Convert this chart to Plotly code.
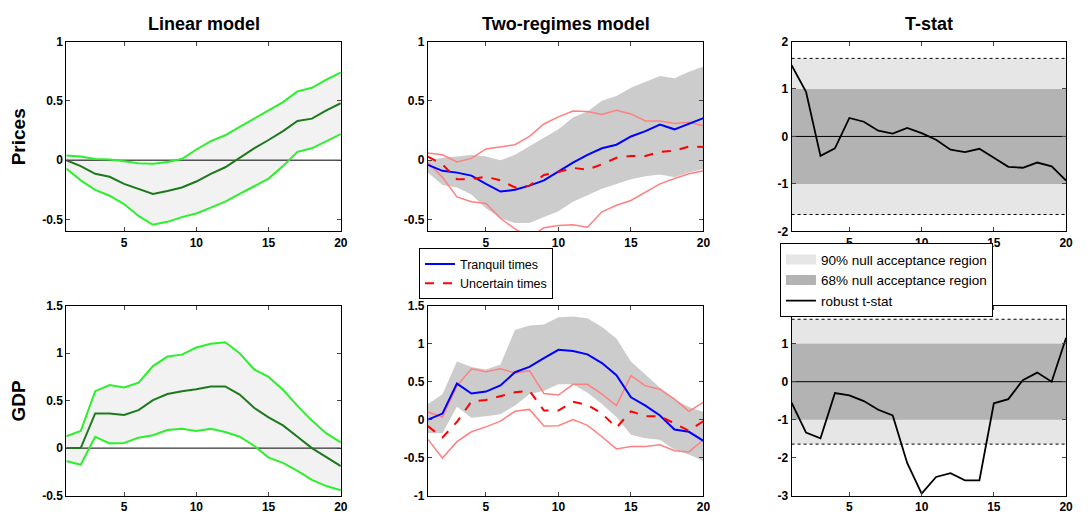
import plotly.graph_objects as go

x = list(range(1, 21))

# Linear model - Prices
lin_p_mid = [0, -0.05, -0.115, -0.14, -0.2, -0.24, -0.285, -0.26, -0.23, -0.18, -0.115, -0.06, 0.02, 0.1, 0.17, 0.245, 0.33, 0.35, 0.42, 0.48]
lin_p_up = [0.04, 0.03, 0.01, 0.005, -0.01, -0.025, -0.03, -0.015, 0.01, 0.09, 0.16, 0.21, 0.28, 0.35, 0.42, 0.49, 0.58, 0.61, 0.68, 0.74]
lin_p_lo = [-0.07, -0.17, -0.25, -0.3, -0.37, -0.47, -0.545, -0.52, -0.48, -0.45, -0.4, -0.35, -0.285, -0.22, -0.155, -0.05, 0.07, 0.1, 0.16, 0.22]

# Linear model - GDP
lin_g_mid = [0, 0, 0.365, 0.365, 0.35, 0.4, 0.505, 0.57, 0.6, 0.62, 0.65, 0.65, 0.565, 0.425, 0.325, 0.24, 0.12, 0, -0.095, -0.19]
lin_g_up = [0.125, 0.18, 0.6, 0.665, 0.64, 0.69, 0.865, 0.965, 0.985, 1.06, 1.1, 1.115, 1.0, 0.83, 0.75, 0.615, 0.445, 0.29, 0.155, 0.06]
lin_g_lo = [-0.135, -0.175, 0.12, 0.05, 0.055, 0.11, 0.135, 0.19, 0.205, 0.18, 0.205, 0.17, 0.12, 0.025, -0.1, -0.155, -0.24, -0.335, -0.4, -0.445]

# Two-regimes model - Prices
tr_p_tranq = [-0.04, -0.09, -0.105, -0.13, -0.2, -0.265, -0.25, -0.215, -0.17, -0.095, -0.02, 0.045, 0.1, 0.13, 0.2, 0.245, 0.3, 0.26, 0.305, 0.355]
tr_p_unc = [0.03, -0.035, -0.16, -0.16, -0.14, -0.17, -0.23, -0.215, -0.125, -0.1, -0.065, -0.08, -0.035, 0.02, 0.035, 0.035, 0.07, 0.08, 0.115, 0.11]
tr_p_unc_up = [0.06, 0.045, -0.015, 0.015, 0.095, 0.115, 0.13, 0.2, 0.305, 0.365, 0.415, 0.41, 0.385, 0.42, 0.39, 0.33, 0.33, 0.31, 0.32, 0.29]
tr_p_unc_lo = [-0.02, -0.145, -0.31, -0.35, -0.365, -0.49, -0.58, -0.65, -0.57, -0.55, -0.545, -0.565, -0.435, -0.38, -0.34, -0.27, -0.2, -0.155, -0.115, -0.09]
tr_p_band_up = [0.0, 0.02, 0.03, 0.045, 0.03, 0.0, 0.045, 0.115, 0.185, 0.26, 0.36, 0.41, 0.5, 0.54, 0.61, 0.66, 0.71, 0.69, 0.745, 0.79]
tr_p_band_lo = [-0.105, -0.21, -0.23, -0.29, -0.405, -0.49, -0.53, -0.53, -0.48, -0.43, -0.35, -0.295, -0.24, -0.2, -0.16, -0.135, -0.12, -0.145, -0.105, -0.075]

# Two-regimes model - GDP
tr_g_tranq = [0, 0.08, 0.475, 0.345, 0.37, 0.45, 0.625, 0.695, 0.81, 0.92, 0.905, 0.86, 0.745, 0.585, 0.295, 0.185, 0.055, -0.13, -0.16, -0.28]
tr_g_unc = [-0.085, -0.235, -0.03, 0.24, 0.26, 0.315, 0.36, 0.38, 0.12, 0.12, 0.235, 0.195, 0.08, -0.105, 0.11, 0.045, 0.045, -0.05, -0.145, -0.02]
tr_g_unc_up = [0.1, 0.035, 0.445, 0.67, 0.63, 0.67, 0.615, 0.645, 0.345, 0.325, 0.465, 0.465, 0.335, 0.185, 0.58, 0.445, 0.4, 0.27, 0.11, 0.23]
tr_g_unc_lo = [-0.26, -0.505, -0.29, -0.16, -0.095, -0.02, 0.11, 0.135, -0.085, -0.08, 0, -0.075, -0.225, -0.385, -0.355, -0.355, -0.33, -0.41, -0.425, -0.265]
tr_g_band_up = [0.205, 0.335, 0.765, 0.695, 0.66, 0.725, 1.18, 1.24, 1.255, 1.35, 1.36, 1.335, 1.22, 1.07, 0.765, 0.595, 0.42, 0.27, 0.165, 0.1]
tr_g_band_lo = [-0.18, -0.18, 0.17, 0.025, 0.045, 0.07, 0.185, 0.335, 0.38, 0.465, 0.465, 0.355, 0.205, 0.035, -0.2, -0.245, -0.265, -0.395, -0.46, -0.545]

# T-stats
t_prices = [1.5, 0.94, -0.41, -0.25, 0.39, 0.31, 0.12, 0.06, 0.18, 0.07, -0.07, -0.28, -0.33, -0.26, -0.45, -0.64, -0.66, -0.55, -0.63, -0.93]
t_gdp = [-0.55, -1.34, -1.49, -0.3, -0.36, -0.51, -0.74, -0.89, -2.14, -2.95, -2.51, -2.41, -2.6, -2.6, -0.57, -0.46, 0.04, 0.24, 0.0, 1.16]
crit90 = 1.645
crit68 = 1.0

col_titles = ["Linear model", "Two-regimes model", "T-stat"]
row_titles = ["Prices", "GDP"]
legend_names = ["Tranquil times", "Uncertain times", "90% null acceptance region", "68% null acceptance region", "robust t-stat"]

BRIGHT = "#2bf02b"
DARK = "#1c7a1c"
PINK = "#ff8080"
LIGHT90 = "#e6e6e6"
DARK68 = "#b3b3b3"
FONT = "Liberation Sans, Arial, sans-serif"

fig = go.Figure()

xdom = [(66.7 / 1090, 343 / 1090), (430.7 / 1090, 708 / 1090), (796.7 / 1090, 1073 / 1090)]
ydom = [(1 - 230.5 / 523, 1 - 35.5 / 523), (1 - 502 / 523, 1 - 307 / 523)]
yranges = [[[-0.6, 1], [-0.6, 1], [-2, 2]], [[-0.5, 1.5], [-1, 1.5], [-3, 2]]]
yticks = [[[-0.5, 0, 0.5, 1], [-0.5, 0, 0.5, 1], [-2, -1, 0, 1, 2]],
          [[-0.5, 0, 0.5, 1, 1.5], [-1, -0.5, 0, 0.5, 1, 1.5], [-3, -2, -1, 0, 1, 2]]]

def axname(r, c):
    i = r * 3 + c + 1
    return ("x" if i == 1 else f"x{i}"), ("y" if i == 1 else f"y{i}")

def add(trace, r, c):
    xa, ya = axname(r, c)
    trace.update(xaxis=xa, yaxis=ya)
    fig.add_trace(trace)

def band(lo, up, color, r, c):
    add(go.Scatter(x=x, y=lo, mode="lines", line=dict(width=0, color=color), showlegend=False, hoverinfo="skip"), r, c)
    add(go.Scatter(x=x, y=up, mode="lines", line=dict(width=0, color=color), fill="tonexty", fillcolor=color, showlegend=False, hoverinfo="skip"), r, c)

def zero(r, c):
    add(go.Scatter(x=[x[0], x[-1]], y=[0, 0], mode="lines", line=dict(color="black", width=1), showlegend=False, hoverinfo="skip"), r, c)

# Linear panels
for r, (mid, up, lo) in enumerate([(lin_p_mid, lin_p_up, lin_p_lo), (lin_g_mid, lin_g_up, lin_g_lo)]):
    band(lo, up, "#f2f2f2", r, 0)
    zero(r, 0)
    add(go.Scatter(x=x, y=up, mode="lines", line=dict(color=BRIGHT, width=2), showlegend=False), r, 0)
    add(go.Scatter(x=x, y=lo, mode="lines", line=dict(color=BRIGHT, width=2), showlegend=False), r, 0)
    add(go.Scatter(x=x, y=mid, mode="lines", line=dict(color=DARK, width=2), showlegend=False), r, 0)

# Two-regimes panels
for r, (tq, un, uu, ul, bu, bl) in enumerate([
        (tr_p_tranq, tr_p_unc, tr_p_unc_up, tr_p_unc_lo, tr_p_band_up, tr_p_band_lo),
        (tr_g_tranq, tr_g_unc, tr_g_unc_up, tr_g_unc_lo, tr_g_band_up, tr_g_band_lo)]):
    band(bl, bu, "#cccccc", r, 1)
    add(go.Scatter(x=x, y=uu, mode="lines", line=dict(color=PINK, width=1.5), showlegend=False), r, 1)
    add(go.Scatter(x=x, y=ul, mode="lines", line=dict(color=PINK, width=1.5), showlegend=False), r, 1)
    add(go.Scatter(x=x, y=tq, mode="lines", line=dict(color="#0000ff", width=2), name=legend_names[0],
                   showlegend=(r == 0), legend="legend"), r, 1)
    add(go.Scatter(x=x, y=un, mode="lines", line=dict(color="#ff0000", width=2, dash="dash"), name=legend_names[1],
                   showlegend=(r == 0), legend="legend"), r, 1)

# T-stat panels
for r, ts in enumerate([t_prices, t_gdp]):
    xb = [x[0], x[-1], x[-1], x[0]]
    add(go.Scatter(x=xb, y=[-crit90, -crit90, crit90, crit90], mode="lines", fill="toself", fillcolor=LIGHT90,
                   line=dict(width=0, color=LIGHT90), showlegend=False, hoverinfo="skip"), r, 2)
    add(go.Scatter(x=xb, y=[-crit68, -crit68, crit68, crit68], mode="lines", fill="toself", fillcolor=DARK68,
                   line=dict(width=0, color=DARK68), showlegend=False, hoverinfo="skip"), r, 2)
    for s in (crit90, -crit90):
        add(go.Scatter(x=[x[0], x[-1]], y=[s, s], mode="lines", line=dict(color="black", width=1, dash="dot"),
                       showlegend=False, hoverinfo="skip"), r, 2)
    zero(r, 2)
    if r == 0:
        # legend-only patches
        add(go.Scatter(x=[None], y=[None], mode="lines", line=dict(color=LIGHT90, width=10),
                       name=legend_names[2], legend="legend2"), r, 2)
        add(go.Scatter(x=[None], y=[None], mode="lines", line=dict(color=DARK68, width=10),
                       name=legend_names[3], legend="legend2"), r, 2)
    add(go.Scatter(x=x, y=ts, mode="lines", line=dict(color="black", width=1.8), name=legend_names[4],
                   showlegend=(r == 0), legend="legend2"), r, 2)

tickfont = dict(family=FONT, size=12, color="black", weight="bold")
for r in range(2):
    for c in range(3):
        i = r * 3 + c + 1
        suf = "" if i == 1 else str(i)
        xa, ya = axname(r, c)
        fig.layout["xaxis" + suf] = dict(domain=list(xdom[c]), anchor=ya, range=[1, 20], tickvals=[5, 10, 15, 20],
                                         ticks="inside", ticklen=4, mirror="ticks", showline=True, linecolor="black",
                                         linewidth=1, showgrid=False, zeroline=False, tickfont=tickfont, fixedrange=True)
        fig.layout["yaxis" + suf] = dict(domain=list(ydom[r]), anchor=xa, range=yranges[r][c], tickvals=yticks[r][c],
                                         ticktext=[f"{v:g}" for v in yticks[r][c]],
                                         ticks="inside", ticklen=4, mirror="ticks", showline=True, linecolor="black",
                                         linewidth=1, showgrid=False, zeroline=False, tickfont=tickfont, fixedrange=True)

ann = []
centers = [(d[0] + d[1]) / 2 for d in xdom]
for c, t in enumerate(col_titles):
    ann.append(dict(text=f"<b>{t}</b>", x=centers[c], y=1 - 17 / 523, xref="paper", yref="paper", showarrow=False,
                    font=dict(family=FONT, size=18, color="black"), xanchor="center", yanchor="middle"))
for r, t in enumerate(row_titles):
    ann.append(dict(text=f"<b>{t}</b>", x=19 / 1090, y=(ydom[r][0] + ydom[r][1]) / 2, xref="paper", yref="paper",
                    showarrow=False, textangle=-90, font=dict(family=FONT, size=19, color="black"),
                    xanchor="center", yanchor="middle"))

fig.update_layout(
    width=1090, height=523, margin=dict(l=0, r=0, t=0, b=0),
    paper_bgcolor="white", plot_bgcolor="white",
    annotations=ann,
    legend=dict(x=421.7 / 1090, y=1 - 248 / 523, xanchor="left", yanchor="top", bgcolor="white",
                bordercolor="black", borderwidth=1, font=dict(family=FONT, size=12.5, color="black"),
                tracegroupgap=0, itemwidth=30, traceorder="normal"),
    legend2=dict(x=785 / 1090, y=1 - 242.7 / 523, xanchor="left", yanchor="top", bgcolor="white",
                 bordercolor="black", borderwidth=1, font=dict(family=FONT, size=13.5, color="black"),
                 tracegroupgap=0, itemwidth=30, traceorder="normal"),
)

fig.write_html("out.html")
